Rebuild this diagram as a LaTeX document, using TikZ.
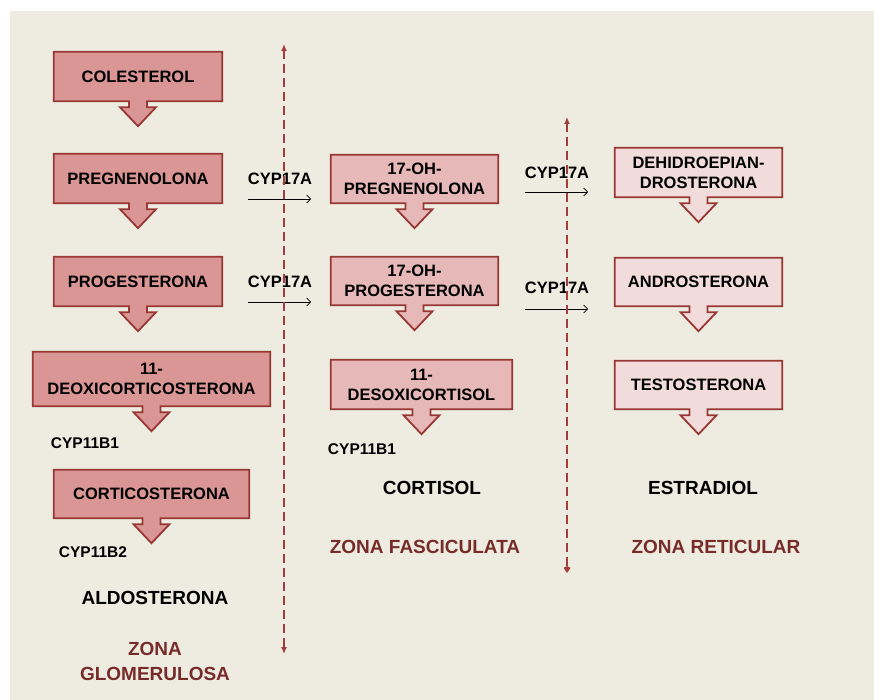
\documentclass[tikz,border=0pt]{standalone}
\usepackage{fontspec}
\setmainfont{Liberation Sans}
\usetikzlibrary{arrows.meta,backgrounds}
\definecolor{paper}{HTML}{EEEBE0}
\definecolor{boxline}{HTML}{993735}
\definecolor{glom}{HTML}{D99694}
\definecolor{fasc}{HTML}{E6B9B8}
\definecolor{retic}{HTML}{F2DCDB}
\definecolor{zonetxt}{HTML}{772C2A}
\definecolor{zoneline}{HTML}{A33D3D}
\tikzset{
  hormone/.style={align=center, inner sep=0pt, font=\fontsize{16.5}{20}\selectfont\bfseries},
  callbox/.style={draw=boxline, line width=1.8pt, line join=miter},
  enzyme/.style={font=\fontsize{15.5}{19}\selectfont\bfseries},
  product/.style={font=\fontsize{19}{23}\selectfont\bfseries},
  zonename/.style={align=center, text=zonetxt, font=\fontsize{19}{25}\selectfont\bfseries},
  zoneborder/.style={draw=zoneline, line width=1.8pt, dash pattern=on 9pt off 5pt,
    {Latex[length=7pt,width=6pt]}-{Latex[length=7pt,width=6pt]}},
  step17/.style={-{Straight Barb[length=4pt,width=8pt]}, line width=0.7pt},
}
\newcommand{\hormonebox}[2]{\draw[callbox, fill=#2] (#1.north west) -| (#1.south east)
  -- ([xshift=9pt]#1.south) -- ++(0,6) -- ++(9,0) -- ++(-18,19) -- ++(-18,-19)
  -- ++(9,0) -- ++(0,-6) -- (#1.south west) -- cycle;}
\begin{document}
\begin{tikzpicture}[x=1pt, y=-1pt]
\useasboundingbox (0,0) rectangle (874,700);

\node[hormone, minimum width=168pt, minimum height=49pt] (col) at (138,76.5) {COLESTEROL};
\node[hormone, minimum width=168pt, minimum height=49pt] (preg) at (138,178.5) {PREGNENOLONA};
\node[hormone, minimum width=168pt, minimum height=49pt] (prog) at (138,281.5) {PROGESTERONA};
\node[hormone, minimum width=237pt, minimum height=54pt] (doc) at (151.5,379) {11-\\DEOXICORTICOSTERONA};
\node[hormone, minimum width=195pt, minimum height=48pt] (cortic) at (151.5,494) {CORTICOSTERONA};

\node[hormone, minimum width=167pt, minimum height=48pt] (ohpreg) at (414.5,179) {17-OH-\\PREGNENOLONA};
\node[hormone, minimum width=167pt, minimum height=48pt] (ohprog) at (414.5,281) {17-OH-\\PROGESTERONA};
\node[hormone, minimum width=181pt, minimum height=49pt] (desox) at (421.5,384.5) {11-\\DESOXICORTISOL};

\node[hormone, minimum width=167pt, minimum height=49pt] (dhea) at (698.5,172.5) {DEHIDROEPIAN-\\DROSTERONA};
\node[hormone, minimum width=167pt, minimum height=48pt] (andro) at (698.5,282) {ANDROSTERONA};
\node[hormone, minimum width=167pt, minimum height=48pt] (testo) at (698.5,385) {TESTOSTERONA};

\node[enzyme] (b1a) at (85,443) {CYP11B1};
\node[enzyme] (b2) at (93,552) {CYP11B2};
\node[enzyme] (b1b) at (362,449) {CYP11B1};
\node[product] (aldo) at (155,598) {ALDOSTERONA};
\node[product] (cortisol) at (432,488) {CORTISOL};
\node[product] (estra) at (703,488) {ESTRADIOL};
\node[zonename] (zglom) at (155,661) {ZONA\\GLOMERULOSA};
\node[zonename] (zfasc) at (425,547) {ZONA FASCICULATA};
\node[zonename] (zret) at (716,547) {ZONA RETICULAR};

\node[enzyme, font=\fontsize{16.5}{19}\selectfont\bfseries] (c1) at (280,179) {CYP17A};
\node[enzyme, font=\fontsize{16.5}{19}\selectfont\bfseries] (c2) at (280,282) {CYP17A};
\node[enzyme, font=\fontsize{16.5}{19}\selectfont\bfseries] (c3) at (557,173) {CYP17A};
\node[enzyme, font=\fontsize{16.5}{19}\selectfont\bfseries] (c4) at (557,288) {CYP17A};
\coordinate (c1s) at (248,199); \coordinate (c1e) at (311,199);
\coordinate (c2s) at (248,302); \coordinate (c2e) at (311,302);
\coordinate (c3s) at (525,192); \coordinate (c3e) at (588,192);
\coordinate (c4s) at (525,309); \coordinate (c4e) at (588,309);
\draw[step17] (c1s) -- (c1e);
\draw[step17] (c2s) -- (c2e);
\draw[step17] (c3s) -- (c3e);
\draw[step17] (c4s) -- (c4e);

\coordinate (gtop) at (284,44); \coordinate (gbot) at (284,654);
\coordinate (ftop) at (567,117); \coordinate (fbot) at (567,573);
\draw[zoneborder] (gtop) -- (gbot);
\draw[zoneborder, {Latex[length=7pt,width=6pt]}-{Kite[length=7pt,width=7pt]}] (ftop) -- (fbot);

\begin{pgfonlayer}{background}
\fill[paper] (10,11) rectangle (874,700);
\hormonebox{col}{glom}
\hormonebox{preg}{glom}
\hormonebox{prog}{glom}
\hormonebox{doc}{glom}
\hormonebox{cortic}{glom}
\hormonebox{ohpreg}{fasc}
\hormonebox{ohprog}{fasc}
\hormonebox{desox}{fasc}
\hormonebox{dhea}{retic}
\hormonebox{andro}{retic}
\hormonebox{testo}{retic}
\end{pgfonlayer}
\end{tikzpicture}
\end{document}
